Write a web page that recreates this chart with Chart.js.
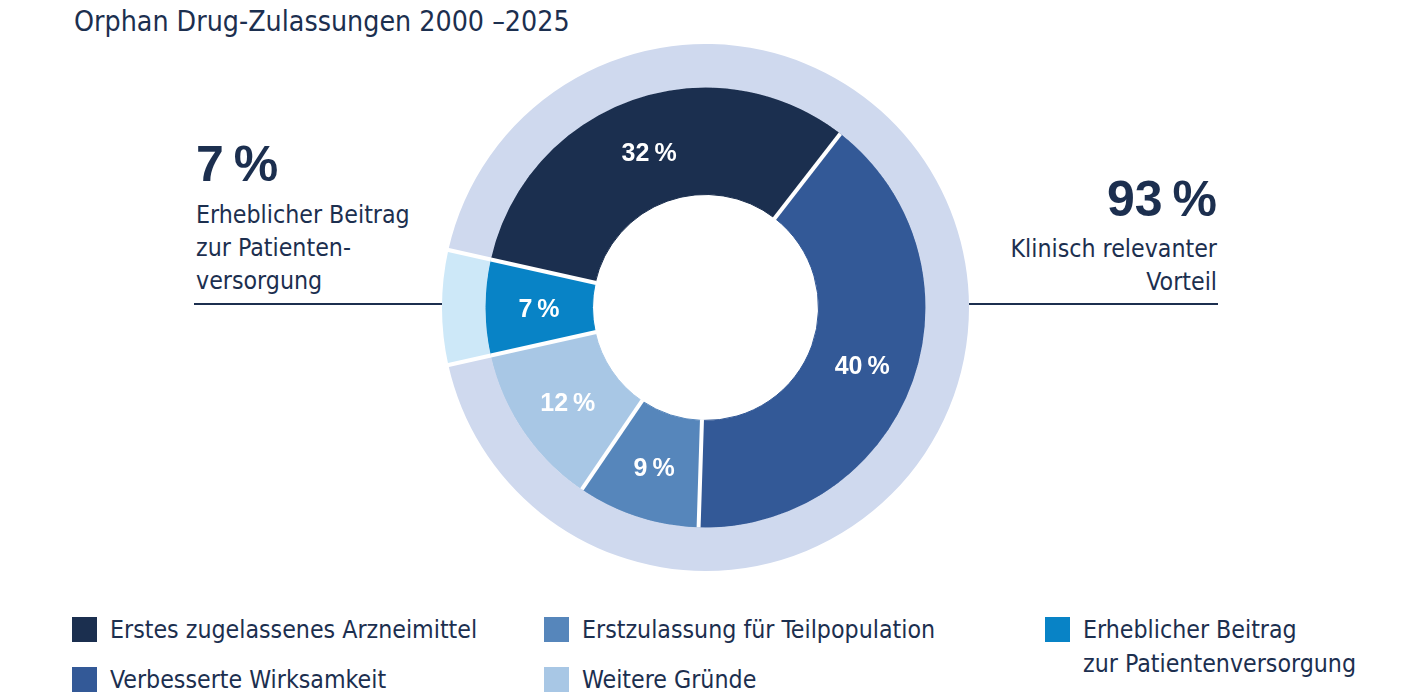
<!DOCTYPE html>
<html lang="de">
<head>
<meta charset="utf-8">
<title>Orphan Drug-Zulassungen 2000–2025</title>
<script src="https://cdn.jsdelivr.net/npm/chart.js@4.4.1/dist/chart.umd.min.js"></script>
<style>
  html, body { margin: 0; padding: 0; background: #fff; }
  body {
    width: 1401px; height: 700px; position: relative; overflow: hidden;
    font-family: "DejaVu Sans Condensed", "Liberation Sans", sans-serif;
    color: #1c2f4f;
  }
  .abs { position: absolute; white-space: pre; }
  #title { left: 74px; top: 2px; font-size: 28.3px; line-height: 40px; }
  .big { font-family: "Liberation Sans", sans-serif; font-weight: bold; font-size: 50px; line-height: 50px; }
  .desc { font-size: 24.7px; line-height: 33px; }
  .rule { position: absolute; height: 2px; background: #1c2f4f; }
  #chartBox { position: absolute; left: 442px; top: 44px; width: 527px; height: 527px; }
  .leg { position: absolute; font-size: 24.7px; line-height: 34px; white-space: pre; }
  .leg i { position: absolute; left: -38px; top: 4px; width: 25px; height: 25px; }
</style>
</head>
<body>
<div id="title" class="abs">Orphan Drug-Zulassungen 2000 –2025</div>

<div id="leftBig" class="abs big" style="left:196px; top:139px;"></div>
<div class="abs desc" style="left:196px; top:198px;">Erheblicher Beitrag
zur Patienten-
versorgung</div>
<div class="rule" style="left:194px; top:303px; width:248px;"></div>

<div id="rightBig" class="abs big" style="right:184px; top:174px; text-align:right;"></div>
<div class="abs desc" style="right:184px; top:232px; text-align:right;">Klinisch relevanter
Vorteil</div>
<div class="rule" style="left:969px; top:303px; width:249px;"></div>

<div id="chartBox"><canvas id="donut"></canvas></div>
<div id="legend"></div>

<script>
// inner ring: reasons for approval
const categories = [
  'Erstes zugelassenes Arzneimittel',
  'Verbesserte Wirksamkeit',
  'Erstzulassung für Teilpopulation',
  'Weitere Gründe',
  'Erheblicher Beitrag\nzur Patientenversorgung'
];
const shares = [32, 40, 9, 12, 7];
const colors = ['#1b2f4f', '#335997', '#5686bb', '#a8c7e5', '#0883c6'];

// outer ring: grouping
const groups = ['Klinisch relevanter Vorteil', 'Erheblicher Beitrag zur Patientenversorgung'];
const groupShares = [93, 7];
const groupColors = ['#cfd9ee', '#cde8f8'];

const pct = v => v + '\u2009%';

document.getElementById('leftBig').textContent = pct(groupShares[1]);
document.getElementById('rightBig').textContent = pct(groupShares[0]);

// legend, three columns filled top to bottom
const legendCols = [110, 582, 1083];
const legendRows = [613, 663];
const legend = document.getElementById('legend');
categories.forEach((name, i) => {
  const item = document.createElement('div');
  item.className = 'leg';
  item.style.left = legendCols[Math.floor(i / 2)] + 'px';
  item.style.top = legendRows[i % 2] + 'px';
  item.textContent = name;
  const box = document.createElement('i');
  box.style.background = colors[i];
  item.prepend(box);
  legend.appendChild(item);
});

// white gaps between segments and the % labels inside the inner ring
const ringDecor = {
  id: 'ringDecor',
  afterDatasetsDraw(chart) {
    const ctx = chart.ctx;
    ctx.save();
    ctx.strokeStyle = '#fff';
    ctx.lineWidth = 4;
    chart.data.datasets.forEach((ds, di) => {
      chart.getDatasetMeta(di).data.forEach(arc => {
        const { x, y, startAngle, innerRadius, outerRadius } = arc;
        const r0 = di === 1 ? innerRadius - 1 : innerRadius;
        const r1 = di === 0 ? outerRadius + 1 : outerRadius;
        ctx.beginPath();
        ctx.moveTo(x + Math.cos(startAngle) * r0, y + Math.sin(startAngle) * r0);
        ctx.lineTo(x + Math.cos(startAngle) * r1, y + Math.sin(startAngle) * r1);
        ctx.stroke();
      });
    });

    ctx.fillStyle = '#fff';
    ctx.font = 'bold 25px "Liberation Sans", sans-serif';
    ctx.textAlign = 'center';
    ctx.textBaseline = 'middle';
    chart.getDatasetMeta(1).data.forEach((arc, i) => {
      const p = arc.tooltipPosition(true);
      ctx.fillText(pct(shares[i]), p.x, p.y + 3);
    });
    ctx.restore();
  }
};

new Chart(document.getElementById('donut'), {
  type: 'doughnut',
  data: {
    labels: categories,
    datasets: [{
      label: 'Gruppe',
      data: groupShares,
      backgroundColor: groupColors,
      borderWidth: 0,
      hoverBorderWidth: 0,
      hoverOffset: 0,
      weight: 43.5
    }, {
      label: 'Zulassungsgrund',
      data: shares,
      backgroundColor: colors,
      borderColor: colors,
      borderWidth: 1,
      hoverBorderWidth: 1,
      hoverOffset: 0,
      weight: 107
    }]
  },
  options: {
    responsive: true,
    maintainAspectRatio: false,
    animation: false,
    events: [],
    cutout: 113,
    rotation: 270 + groupShares[1] * 1.8,
    layout: { padding: 0 },
    plugins: {
      legend: { display: false },
      tooltip: { enabled: false }
    }
  },
  plugins: [ringDecor]
});
</script>
</body>
</html>
